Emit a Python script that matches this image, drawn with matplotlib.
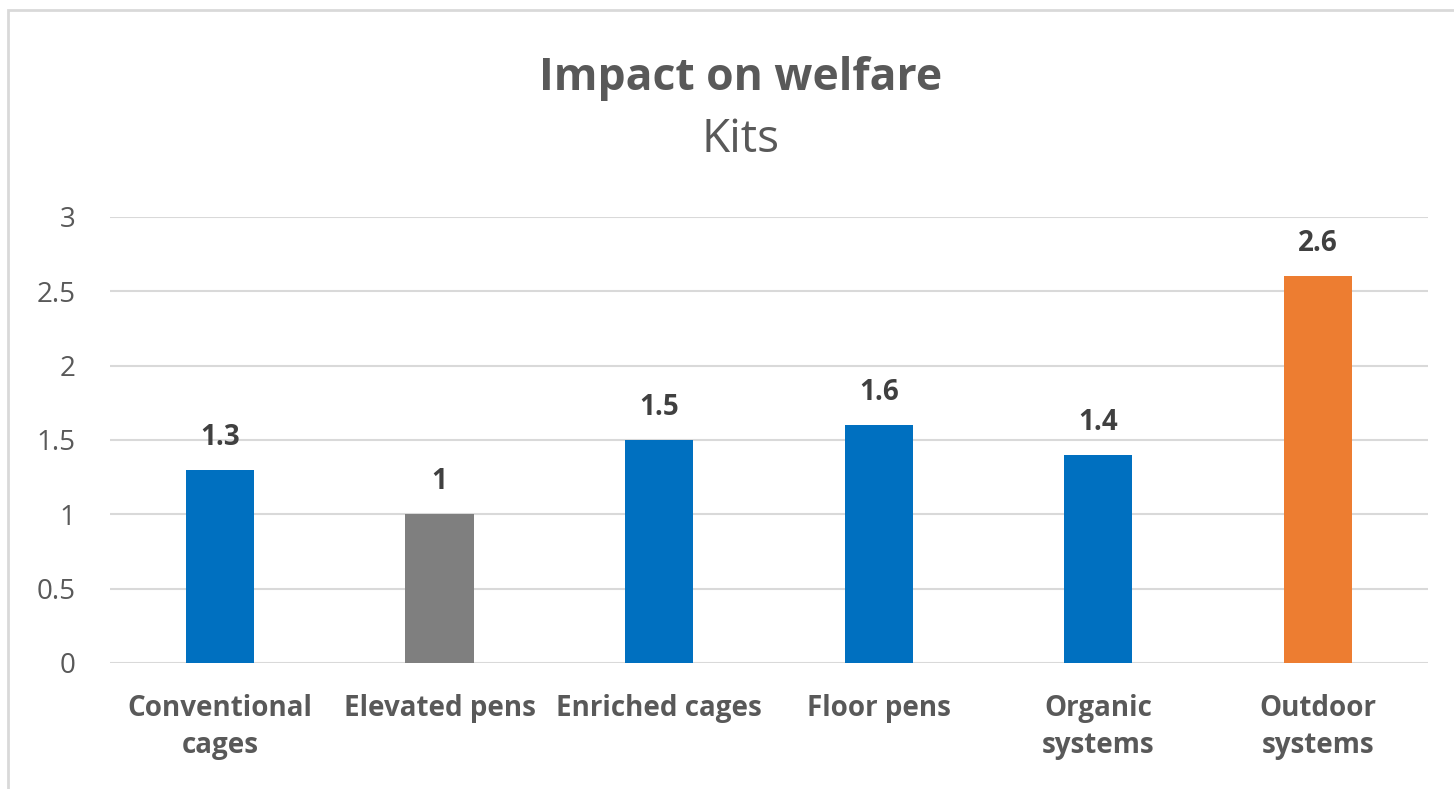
import matplotlib.pyplot as plt
from matplotlib.patches import Rectangle

# data
systems = ['Conventional\ncages', 'Elevated pens', 'Enriched cages', 'Floor pens',
           'Organic\nsystems', 'Outdoor\nsystems']
scores = [1.3, 1, 1.5, 1.6, 1.4, 2.6]
bar_colors = ['#0070C0', '#7F7F7F', '#0070C0', '#0070C0', '#0070C0', '#ED7D31']
y_ticks = [0, 0.5, 1, 1.5, 2, 2.5, 3]
y_tick_labels = ['0', '0.5', '1', '1.5', '2', '2.5', '3']

plt.rcParams['font.family'] = ['Open Sans', 'DejaVu Sans']

fig = plt.figure(figsize=(14.54, 7.89), dpi=100)
ax = fig.add_axes([0.0757, 0.1597, 0.9063, 0.5653])

# chart frame (extends past right/bottom edge like the screenshot)
fig.patches.append(Rectangle((8 / 1454, -0.1), 1.2, 1 - 10 / 789 + 0.1,
                             transform=fig.transFigure, fill=False,
                             edgecolor='#D9D9D9', linewidth=2))

x = range(len(systems))
bars = ax.bar(x, scores, width=0.31, color=bar_colors, zorder=3)

for b, v in zip(bars, scores):
    ax.annotate(f'{v:g}', (b.get_x() + b.get_width() / 2, v), xytext=(0, 18),
                textcoords='offset points', ha='center', va='baseline',
                fontsize=20, fontweight='bold', color='#404040')

ax.set_xlim(-0.5, len(systems) - 0.5)
ax.set_ylim(0, 3)
ax.set_yticks(y_ticks)
ax.set_yticklabels(y_tick_labels)
ax.set_xticks(list(x))
ax.set_xticklabels(systems, fontsize=20, fontweight='bold', color='#595959',
                   linespacing=1.4, va='top')
ax.tick_params(axis='y', labelsize=20, labelcolor='#595959', length=0, pad=25)
ax.tick_params(axis='x', length=0, pad=22)
ax.grid(axis='y', color='#D9D9D9', linewidth=1.5, zorder=0)
for s in ax.spines.values():
    s.set_visible(False)

fig.text(0.509, 1 - 90 / 789, 'Impact on welfare', ha='center', va='baseline',
         fontsize=32, fontweight='bold', color='#595959')
fig.text(0.509, 1 - 152 / 789, 'Kits', ha='center', va='baseline',
         fontsize=33, color='#595959')

fig.savefig('out.png', dpi=100)
